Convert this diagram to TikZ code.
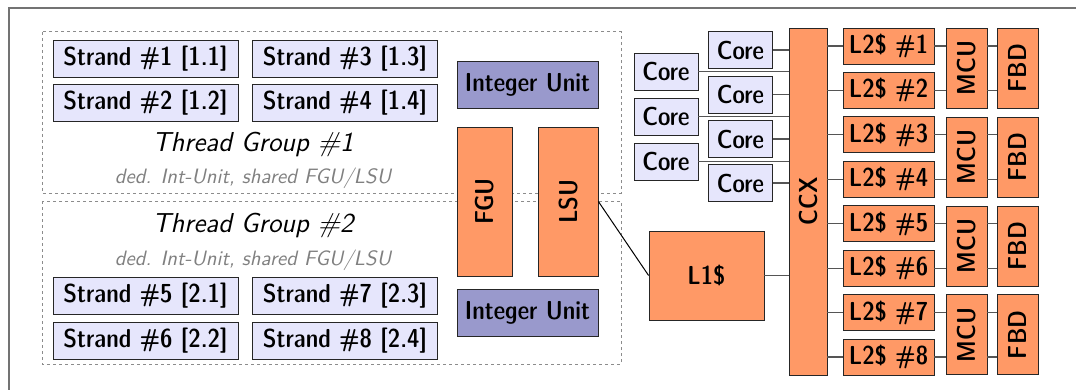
\documentclass[tikz,border=0pt]{standalone}
\usetikzlibrary{calc}

\definecolor{strandfill}{RGB}{230,230,252}
\definecolor{intfill}{RGB}{153,153,204}
\definecolor{hwfill}{RGB}{255,153,102}
\definecolor{linkgray}{RGB}{85,85,85}

\tikzset{
  box/.style={draw=black!85, inner sep=0pt,
    font=\fontsize{13}{15}\sffamily\fontseries{sbc}\selectfont},
  strandbox/.style={box, fill=strandfill, minimum width=92.5pt, minimum height=18.5pt},
  corebox/.style={box, fill=strandfill, minimum width=32pt, minimum height=18.5pt},
  intbox/.style={box, fill=intfill, minimum width=70.5pt, minimum height=23.5pt},
  hwbox/.style={box, fill=hwfill},
  l2box/.style={hwbox, minimum width=45.5pt, minimum height=18pt},
  memctl/.style={hwbox, rotate=90, minimum width=40pt, minimum height=20.5pt},
  grpbox/.style={draw=black!45, dash pattern=on 1.6pt off 1.4pt, line width=0.5pt},
  grptitle/.style={font=\fontsize{13.7}{16}\selectfont\sffamily\itshape},
  grpnote/.style={text=black!50, font=\fontsize{10.4}{12}\selectfont\sffamily\itshape},
  link/.style={draw=linkgray, line width=0.6pt}
}

\begin{document}
\begin{tikzpicture}[x=0.5pt, y=-0.5pt]
  \useasboundingbox (0,0) rectangle (1076,390);
  % frame
  \draw[black!55, line width=1pt] (9,390) -- (9,8) -- (1076,8);

  % thread groups
  \draw[grpbox] (42,32) rectangle (621,193);
  \draw[grpbox] (42,201) rectangle (621,364);

  \node[strandbox] (s1) at (145.5,58.5) {Strand \#1 [1.1]};
  \node[strandbox] (s2) at (145.5,102.5) {Strand \#2 [1.2]};
  \node[strandbox] (s3) at (345,58.5) {Strand \#3 [1.3]};
  \node[strandbox] (s4) at (345,102.5) {Strand \#4 [1.4]};
  \node[grptitle] (tg1) at (253,145) {Thread Group \#1};
  \node[grpnote] (note1) at (253,178) {ded. Int-Unit, shared FGU/LSU};

  \node[grptitle] (tg2) at (253,225) {Thread Group \#2};
  \node[grpnote] (note2) at (253,260) {ded. Int-Unit, shared FGU/LSU};
  \node[strandbox] (s5) at (145.5,295.5) {Strand \#5 [2.1]};
  \node[strandbox] (s6) at (145.5,340.5) {Strand \#6 [2.2]};
  \node[strandbox] (s7) at (345,295.5) {Strand \#7 [2.3]};
  \node[strandbox] (s8) at (345,340.5) {Strand \#8 [2.4]};

  % execution units
  \node[intbox] (iu1) at (527.5,85) {Integer Unit};
  \node[intbox] (iu2) at (527.5,312.5) {Integer Unit};
  \node[hwbox, rotate=90, minimum width=74.5pt, minimum height=27.5pt] (fgu) at (484.5,201.5) {FGU};
  \node[hwbox, rotate=90, minimum width=74.5pt, minimum height=30pt] (lsu) at (568,201.5) {LSU};
  \node[hwbox, minimum width=57.5pt, minimum height=44.5pt] (l1) at (706.5,275.5) {L1\$};

  % other cores
  \node[corebox] (c1) at (666,71.5) {Core};
  \node[corebox] (c2) at (666,116.5) {Core};
  \node[corebox] (c3) at (666,161.5) {Core};
  \node[corebox] (c4) at (740.5,50) {Core};
  \node[corebox] (c5) at (740.5,94.5) {Core};
  \node[corebox] (c6) at (740.5,139) {Core};
  \node[corebox] (c7) at (740.5,183) {Core};

  % crossbar and L2 banks
  \node[hwbox, rotate=90, minimum width=173.5pt, minimum height=19pt] (ccx) at (808,201.5) {CCX};
  \node[l2box] (l2a) at (888.5,46) {L2\$ \#1};
  \node[l2box] (l2b) at (888.5,90.4) {L2\$ \#2};
  \node[l2box] (l2c) at (888.5,134.9) {L2\$ \#3};
  \node[l2box] (l2d) at (888.5,179.3) {L2\$ \#4};
  \node[l2box] (l2e) at (888.5,223.7) {L2\$ \#5};
  \node[l2box] (l2f) at (888.5,268.1) {L2\$ \#6};
  \node[l2box] (l2g) at (888.5,312.6) {L2\$ \#7};
  \node[l2box] (l2h) at (888.5,357) {L2\$ \#8};

  \node[memctl] (mcu1) at (966.5,68.2) {MCU};
  \node[memctl] (mcu2) at (966.5,157.1) {MCU};
  \node[memctl] (mcu3) at (966.5,245.9) {MCU};
  \node[memctl] (mcu4) at (966.5,334.8) {MCU};
  \node[memctl] (fbd1) at (1017.5,68.2) {FBD};
  \node[memctl] (fbd2) at (1017.5,157.1) {FBD};
  \node[memctl] (fbd3) at (1017.5,245.9) {FBD};
  \node[memctl] (fbd4) at (1017.5,334.8) {FBD};

  % links
  \draw[line width=0.5pt] (lsu.south) -- (l1.west);
  \draw[link] (l1.east) -- (l1.east -| ccx.north);
  \foreach \c in {c1,c2,c3,c4,c5,c6,c7}
    \draw[link] (\c.east) -- (\c.east -| ccx.north);
  \foreach \l/\m in {l2a/1,l2b/1,l2c/2,l2d/2,l2e/3,l2f/3,l2g/4,l2h/4} {
    \draw[link] (ccx.south |- \l.west) -- (\l.west);
    \draw[link] (\l.east) -- (\l.east -| mcu\m.north);
    \draw[link] (mcu\m.south |- \l.east) -- (fbd\m.north |- \l.east);
  }
\end{tikzpicture}
\end{document}
